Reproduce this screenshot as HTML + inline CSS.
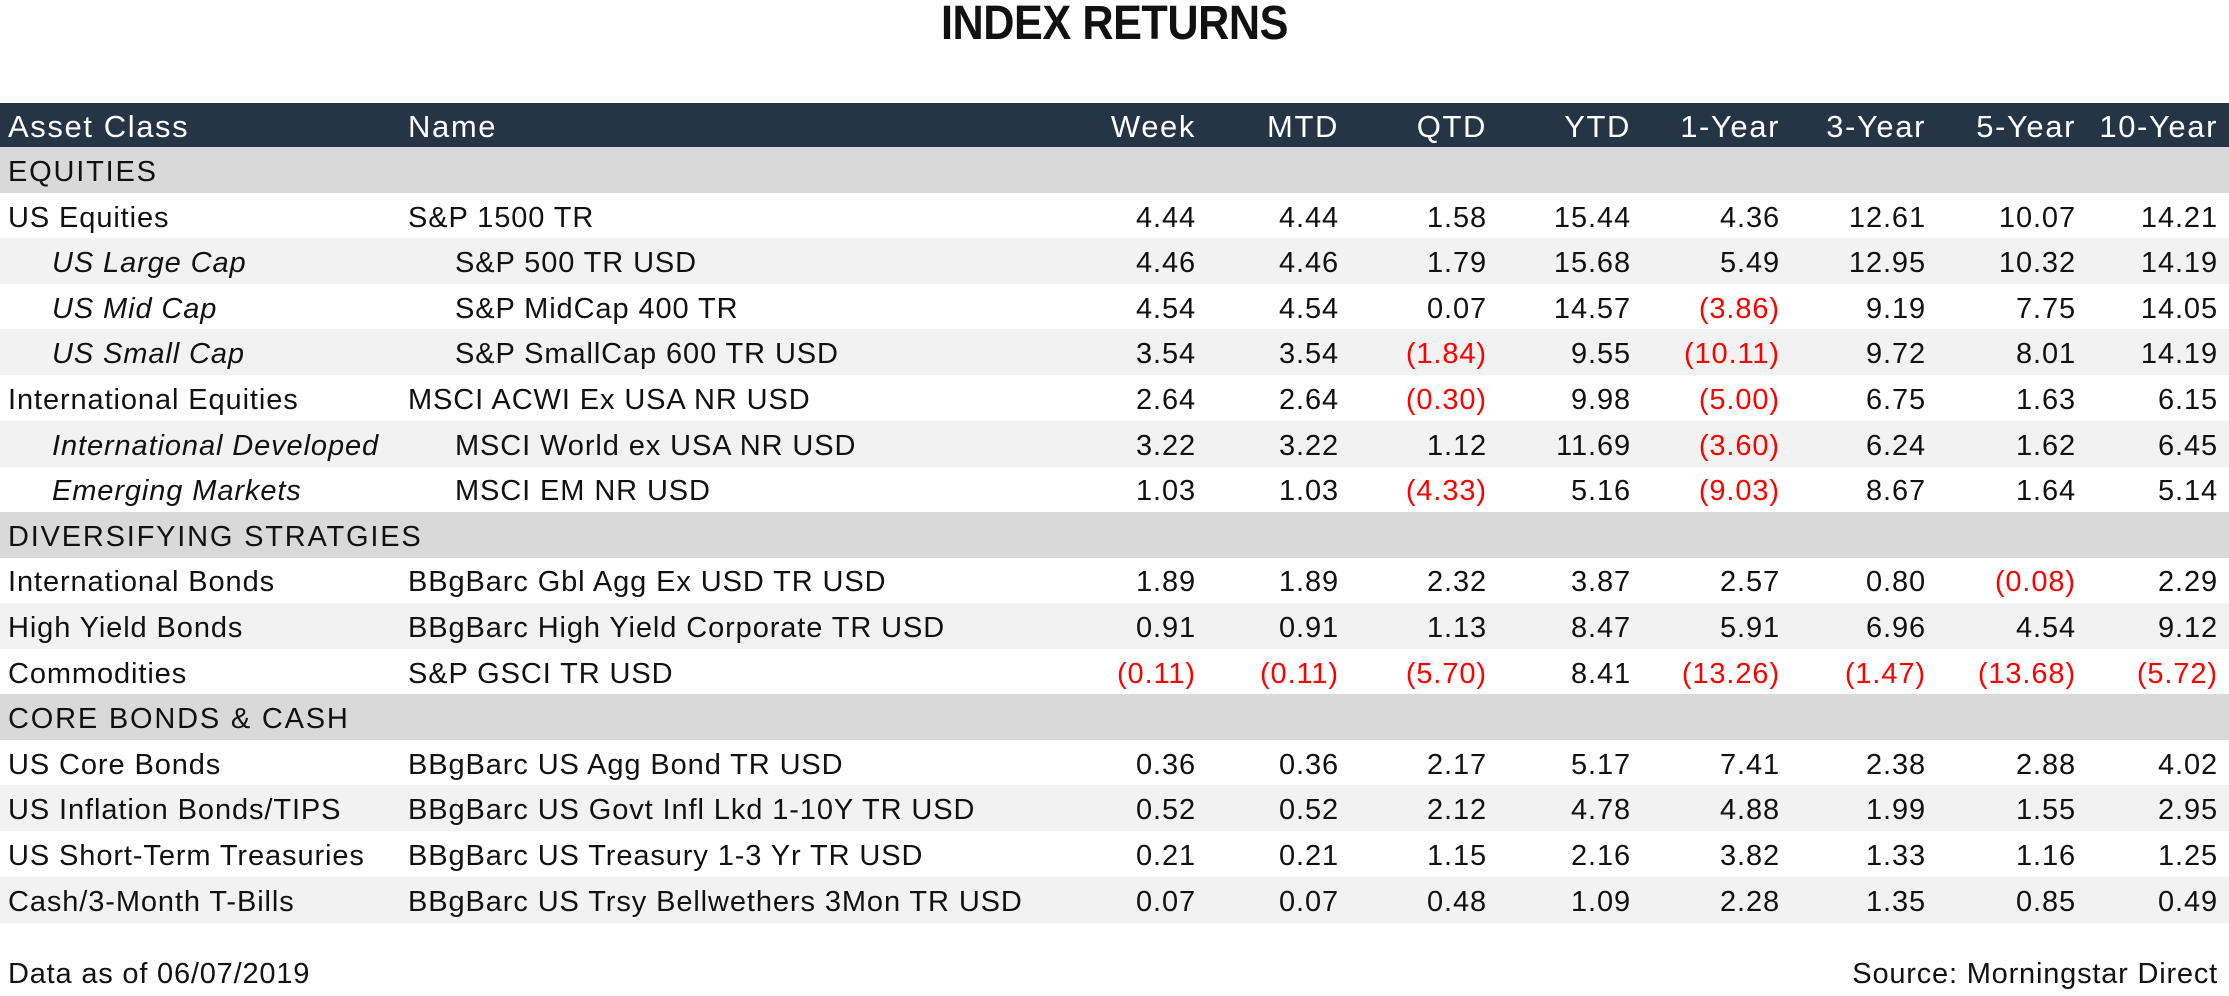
<!DOCTYPE html>
<html><head><meta charset="utf-8"><style>
body{margin:0;width:2229px;height:996px;background:#fff;position:relative;overflow:hidden;font-family:"Liberation Sans",sans-serif;color:#111}
.t{position:absolute;left:0;top:0;width:2229px;text-align:center;font-weight:bold;font-size:48px;line-height:48px;top:0px;transform:scaleX(0.9);letter-spacing:-0.5px}
.r{position:absolute;left:0;width:2229px;height:46px;font-size:29px;line-height:50px;letter-spacing:0.9px}
.r span{position:absolute;white-space:nowrap}
.n{text-align:right}
.red{color:#f00}
.h{background:#253545;color:#fff;height:44px;line-height:48px;font-size:31px;letter-spacing:1.6px}
.s{background:#d9d9d9;letter-spacing:1.8px}
.g{background:#f2f2f2}
.f{position:absolute;font-size:29px;top:958px;letter-spacing:0.8px}
</style></head><body>
<div class="t">INDEX RETURNS</div>
<div id="tb"></div>
<div class="f" style="left:8px">Data as of 06/07/2019</div>
<div class="f" style="right:11px">Source: Morningstar Direct</div>
<script>
var R=[1196,1339,1487,1631,1780,1926,2076,2218];
var rows=[
['h','Asset Class','Name',['Week','MTD','QTD','YTD','1-Year','3-Year','5-Year','10-Year']],
['s','EQUITIES'],
['w','US Equities','S&P 1500 TR',['4.44','4.44','1.58','15.44','4.36','12.61','10.07','14.21']],
['gi','US Large Cap','S&P 500 TR USD',['4.46','4.46','1.79','15.68','5.49','12.95','10.32','14.19']],
['wi','US Mid Cap','S&P MidCap 400 TR',['4.54','4.54','0.07','14.57','(3.86)','9.19','7.75','14.05']],
['gi','US Small Cap','S&P SmallCap 600 TR USD',['3.54','3.54','(1.84)','9.55','(10.11)','9.72','8.01','14.19']],
['w','International Equities','MSCI ACWI Ex USA NR USD',['2.64','2.64','(0.30)','9.98','(5.00)','6.75','1.63','6.15']],
['gi','International Developed','MSCI World ex USA NR USD',['3.22','3.22','1.12','11.69','(3.60)','6.24','1.62','6.45']],
['wi','Emerging Markets','MSCI EM NR USD',['1.03','1.03','(4.33)','5.16','(9.03)','8.67','1.64','5.14']],
['s','DIVERSIFYING STRATGIES'],
['w','International Bonds','BBgBarc Gbl Agg Ex USD TR USD',['1.89','1.89','2.32','3.87','2.57','0.80','(0.08)','2.29']],
['g','High Yield Bonds','BBgBarc High Yield Corporate TR USD',['0.91','0.91','1.13','8.47','5.91','6.96','4.54','9.12']],
['w','Commodities','S&P GSCI TR USD',['(0.11)','(0.11)','(5.70)','8.41','(13.26)','(1.47)','(13.68)','(5.72)']],
['s','CORE BONDS & CASH'],
['w','US Core Bonds','BBgBarc US Agg Bond TR USD',['0.36','0.36','2.17','5.17','7.41','2.38','2.88','4.02']],
['g','US Inflation Bonds/TIPS','BBgBarc US Govt Infl Lkd 1-10Y TR USD',['0.52','0.52','2.12','4.78','4.88','1.99','1.55','2.95']],
['w','US Short-Term Treasuries','BBgBarc US Treasury 1-3 Yr TR USD',['0.21','0.21','1.15','2.16','3.82','1.33','1.16','1.25']],
['g','Cash/3-Month T-Bills','BBgBarc US Trsy Bellwethers 3Mon TR USD',['0.07','0.07','0.48','1.09','2.28','1.35','0.85','0.49']]
];
var h='',y=103;
function esc(s){return s.replace(/&/g,'&amp;')}
rows.forEach(function(r){
 var t=r[0],c='r';
 if(t=='h')c+=' h';else if(t=='s')c+=' s';else if(t[0]=='g')c+=' g';
 var it=t.length>1&&t[1]=='i';
 h+='<div class="'+c+'" style="top:'+y+'px">';
 h+='<span style="left:'+(it?52:8)+'px;'+(it?'font-style:italic':'')+'">'+esc(r[1])+'</span>';
 if(r[2])h+='<span style="left:'+(it?455:408)+'px">'+esc(r[2])+'</span>';
 if(r[3])r[3].forEach(function(v,i){h+='<span class="n'+(v[0]=='('?' red':'')+'" style="right:'+(2229-R[i])+'px">'+v+'</span>'});
 h+='</div>';
 y+=(t=='h')?44:45.6;
});
document.getElementById('tb').innerHTML=h;
</script>
</body></html>
